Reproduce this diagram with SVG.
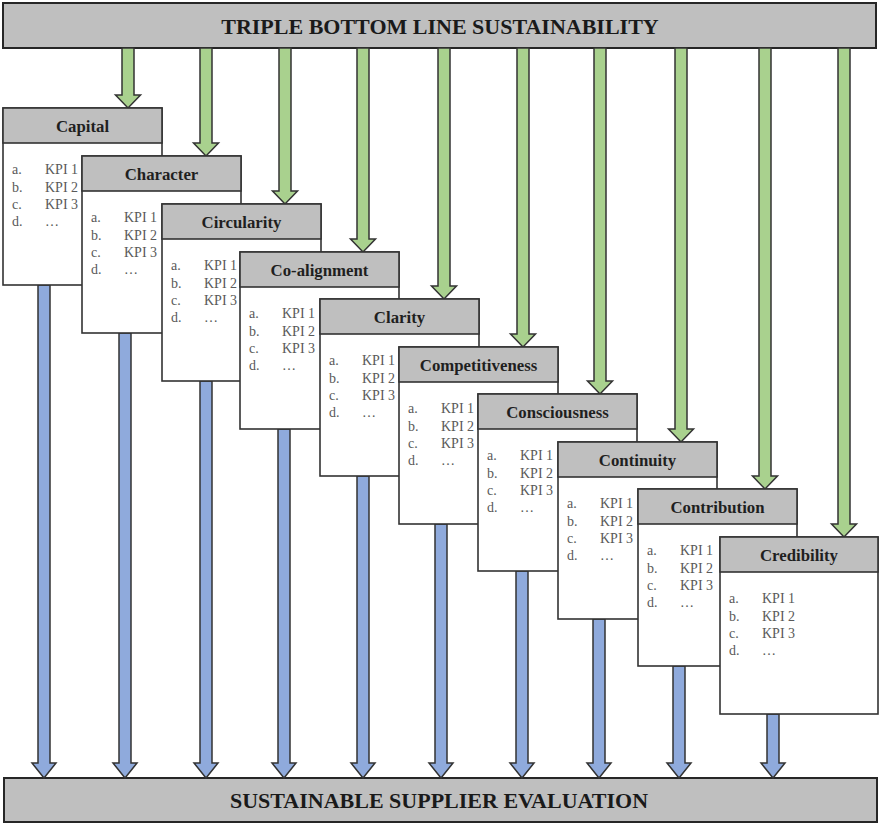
<svg xmlns="http://www.w3.org/2000/svg" width="880" height="823" viewBox="0 0 880 823">
<style>
.bar{fill:#bfbfbf;stroke:#262626;stroke-width:2}
.title{font-family:"Liberation Serif","Times New Roman",serif;font-weight:bold;font-size:22px;fill:#1a1a1a;text-anchor:middle}
.body{fill:#ffffff;stroke:#333333;stroke-width:1.6}
.head{fill:#bfbfbf;stroke:#333333;stroke-width:1.6}
.htxt{font-family:"Liberation Serif","Times New Roman",serif;font-weight:bold;font-size:16.8px;fill:#1f1f1f;text-anchor:middle}
.kpi{font-family:"Liberation Serif","Times New Roman",serif;font-size:14px;fill:#595959}
.g{fill:#a9d18e;stroke:#333333;stroke-width:1.5}
.b{fill:#8faadc;stroke:#333333;stroke-width:1.5}
</style>
<rect width="880" height="823" fill="#ffffff"/>
<g id="top-bar">
<rect class="bar" x="3" y="3" width="873" height="45"/>
<text class="title" x="440" y="34">TRIPLE BOTTOM LINE SUSTAINABILITY</text>
</g>
<g id="bottom-bar">
<rect class="bar" x="4" y="778" width="873" height="44"/>
<text class="title" x="439" y="808">SUSTAINABLE SUPPLIER EVALUATION</text>
</g>
<g id="connectors">
<polygon class="g" points="122,48 134,48 134,95 140.5,95 128,108 115.5,95 122,95"/>
<polygon class="g" points="200,48 212,48 212,143 218.5,143 206,156 193.5,143 200,143"/>
<polygon class="g" points="279,48 291,48 291,191 297.5,191 285,204 272.5,191 279,191"/>
<polygon class="g" points="357,48 369,48 369,239 375.5,239 363,252 350.5,239 357,239"/>
<polygon class="g" points="438,48 450,48 450,286 456.5,286 444,299 431.5,286 438,286"/>
<polygon class="g" points="517,48 529,48 529,334 535.5,334 523,347 510.5,334 517,334"/>
<polygon class="g" points="594,48 606,48 606,381 612.5,381 600,394 587.5,381 594,381"/>
<polygon class="g" points="675,48 687,48 687,429 693.5,429 681,442 668.5,429 675,429"/>
<polygon class="g" points="759,48 771,48 771,476 777.5,476 765,489 752.5,476 759,476"/>
<polygon class="g" points="838,48 850,48 850,524 856.5,524 844,537 831.5,524 838,524"/>
<polygon class="b" points="38,285 50,285 50,763 56,763 44,778 32,763 38,763"/>
<polygon class="b" points="119,333 131,333 131,763 137,763 125,778 113,763 119,763"/>
<polygon class="b" points="200,381 212,381 212,763 218,763 206,778 194,763 200,763"/>
<polygon class="b" points="278,429 290,429 290,763 296,763 284,778 272,763 278,763"/>
<polygon class="b" points="357,476 369,476 369,763 375,763 363,778 351,763 357,763"/>
<polygon class="b" points="435,524 447,524 447,763 453,763 441,778 429,763 435,763"/>
<polygon class="b" points="516,571 528,571 528,763 534,763 522,778 510,763 516,763"/>
<polygon class="b" points="593,619 605,619 605,763 611,763 599,778 587,763 593,763"/>
<polygon class="b" points="673,666 685,666 685,763 691,763 679,778 667,763 673,763"/>
<polygon class="b" points="767,714 779,714 779,763 785,763 773,778 761,763 767,763"/>
</g>
<g id="capital" transform="translate(3,108)">
<rect class="body" x="0" y="0" width="159" height="177"/><rect class="head" x="0" y="0" width="159" height="35"/>
<text class="htxt" x="79.5" y="24">Capital</text>
<text class="kpi" x="9" y="66">a.</text><text class="kpi" x="42" y="66">KPI 1</text>
<text class="kpi" x="9" y="83.5">b.</text><text class="kpi" x="42" y="83.5">KPI 2</text>
<text class="kpi" x="9" y="101">c.</text><text class="kpi" x="42" y="101">KPI 3</text>
<text class="kpi" x="9" y="118">d.</text><text class="kpi" x="42" y="118">…</text>
</g>
<g id="character" transform="translate(82,156)">
<rect class="body" x="0" y="0" width="159" height="177"/><rect class="head" x="0" y="0" width="159" height="35"/>
<text class="htxt" x="79.5" y="24">Character</text>
<text class="kpi" x="9" y="66">a.</text><text class="kpi" x="42" y="66">KPI 1</text>
<text class="kpi" x="9" y="83.5">b.</text><text class="kpi" x="42" y="83.5">KPI 2</text>
<text class="kpi" x="9" y="101">c.</text><text class="kpi" x="42" y="101">KPI 3</text>
<text class="kpi" x="9" y="118">d.</text><text class="kpi" x="42" y="118">…</text>
</g>
<g id="circularity" transform="translate(162,204)">
<rect class="body" x="0" y="0" width="159" height="177"/><rect class="head" x="0" y="0" width="159" height="35"/>
<text class="htxt" x="79.5" y="24">Circularity</text>
<text class="kpi" x="9" y="66">a.</text><text class="kpi" x="42" y="66">KPI 1</text>
<text class="kpi" x="9" y="83.5">b.</text><text class="kpi" x="42" y="83.5">KPI 2</text>
<text class="kpi" x="9" y="101">c.</text><text class="kpi" x="42" y="101">KPI 3</text>
<text class="kpi" x="9" y="118">d.</text><text class="kpi" x="42" y="118">…</text>
</g>
<g id="co-alignment" transform="translate(240,252)">
<rect class="body" x="0" y="0" width="159" height="177"/><rect class="head" x="0" y="0" width="159" height="35"/>
<text class="htxt" x="79.5" y="24">Co-alignment</text>
<text class="kpi" x="9" y="66">a.</text><text class="kpi" x="42" y="66">KPI 1</text>
<text class="kpi" x="9" y="83.5">b.</text><text class="kpi" x="42" y="83.5">KPI 2</text>
<text class="kpi" x="9" y="101">c.</text><text class="kpi" x="42" y="101">KPI 3</text>
<text class="kpi" x="9" y="118">d.</text><text class="kpi" x="42" y="118">…</text>
</g>
<g id="clarity" transform="translate(320,299)">
<rect class="body" x="0" y="0" width="159" height="177"/><rect class="head" x="0" y="0" width="159" height="35"/>
<text class="htxt" x="79.5" y="24">Clarity</text>
<text class="kpi" x="9" y="66">a.</text><text class="kpi" x="42" y="66">KPI 1</text>
<text class="kpi" x="9" y="83.5">b.</text><text class="kpi" x="42" y="83.5">KPI 2</text>
<text class="kpi" x="9" y="101">c.</text><text class="kpi" x="42" y="101">KPI 3</text>
<text class="kpi" x="9" y="118">d.</text><text class="kpi" x="42" y="118">…</text>
</g>
<g id="competitiveness" transform="translate(399,347)">
<rect class="body" x="0" y="0" width="159" height="177"/><rect class="head" x="0" y="0" width="159" height="35"/>
<text class="htxt" x="79.5" y="24">Competitiveness</text>
<text class="kpi" x="9" y="66">a.</text><text class="kpi" x="42" y="66">KPI 1</text>
<text class="kpi" x="9" y="83.5">b.</text><text class="kpi" x="42" y="83.5">KPI 2</text>
<text class="kpi" x="9" y="101">c.</text><text class="kpi" x="42" y="101">KPI 3</text>
<text class="kpi" x="9" y="118">d.</text><text class="kpi" x="42" y="118">…</text>
</g>
<g id="consciousness" transform="translate(478,394)">
<rect class="body" x="0" y="0" width="159" height="177"/><rect class="head" x="0" y="0" width="159" height="35"/>
<text class="htxt" x="79.5" y="24">Consciousness</text>
<text class="kpi" x="9" y="66">a.</text><text class="kpi" x="42" y="66">KPI 1</text>
<text class="kpi" x="9" y="83.5">b.</text><text class="kpi" x="42" y="83.5">KPI 2</text>
<text class="kpi" x="9" y="101">c.</text><text class="kpi" x="42" y="101">KPI 3</text>
<text class="kpi" x="9" y="118">d.</text><text class="kpi" x="42" y="118">…</text>
</g>
<g id="continuity" transform="translate(558,442)">
<rect class="body" x="0" y="0" width="159" height="177"/><rect class="head" x="0" y="0" width="159" height="35"/>
<text class="htxt" x="79.5" y="24">Continuity</text>
<text class="kpi" x="9" y="66">a.</text><text class="kpi" x="42" y="66">KPI 1</text>
<text class="kpi" x="9" y="83.5">b.</text><text class="kpi" x="42" y="83.5">KPI 2</text>
<text class="kpi" x="9" y="101">c.</text><text class="kpi" x="42" y="101">KPI 3</text>
<text class="kpi" x="9" y="118">d.</text><text class="kpi" x="42" y="118">…</text>
</g>
<g id="contribution" transform="translate(638,489)">
<rect class="body" x="0" y="0" width="159" height="177"/><rect class="head" x="0" y="0" width="159" height="35"/>
<text class="htxt" x="79.5" y="24">Contribution</text>
<text class="kpi" x="9" y="66">a.</text><text class="kpi" x="42" y="66">KPI 1</text>
<text class="kpi" x="9" y="83.5">b.</text><text class="kpi" x="42" y="83.5">KPI 2</text>
<text class="kpi" x="9" y="101">c.</text><text class="kpi" x="42" y="101">KPI 3</text>
<text class="kpi" x="9" y="118">d.</text><text class="kpi" x="42" y="118">…</text>
</g>
<g id="credibility" transform="translate(720,537)">
<rect class="body" x="0" y="0" width="158" height="177"/><rect class="head" x="0" y="0" width="158" height="35"/>
<text class="htxt" x="79" y="24">Credibility</text>
<text class="kpi" x="9" y="66">a.</text><text class="kpi" x="42" y="66">KPI 1</text>
<text class="kpi" x="9" y="83.5">b.</text><text class="kpi" x="42" y="83.5">KPI 2</text>
<text class="kpi" x="9" y="101">c.</text><text class="kpi" x="42" y="101">KPI 3</text>
<text class="kpi" x="9" y="118">d.</text><text class="kpi" x="42" y="118">…</text>
</g>
</svg>
